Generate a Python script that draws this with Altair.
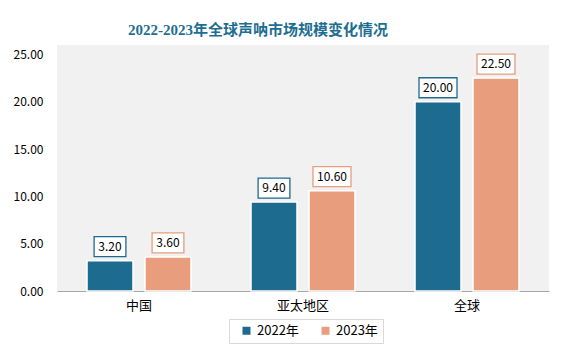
import altair as alt
import pandas as pd

categories = ["中国", "亚太地区", "全球"]
years = ["2022年", "2023年"]
values_2022 = [3.20, 9.40, 20.00]
values_2023 = [3.60, 10.60, 22.50]
y_ticks = [0, 5, 10, 15, 20, 25]

colors = ["#1d6b8f", "#e89d7c"]
FONT = "Noto Sans CJK SC"

rows = []
for c, a, b in zip(categories, values_2022, values_2023):
    rows.append({"cat": c, "year": years[0], "v": a})
    rows.append({"cat": c, "year": years[1], "v": b})
df = pd.DataFrame(rows)
df["label"] = df["v"].map(lambda v: f"{v:.2f}")


def box_path(lbl):
    hw = (len(lbl) * 6.2 + 7) / 40.0
    return f"M{-hw:.3f},-0.5L{hw:.3f},-0.5L{hw:.3f},0.5L{-hw:.3f},0.5Z"


df["box"] = df["label"].map(box_path)

xenc = alt.X(
    "cat:N",
    sort=categories,
    scale=alt.Scale(paddingInner=0.366, paddingOuter=0.183),
    axis=alt.Axis(
        title=None, labelAngle=0, ticks=False, domainColor="#a6a6a6",
        labelFontSize=13, labelFont=FONT, labelColor="#000000", labelPadding=8,
    ),
)
yenc = alt.Y(
    "v:Q",
    scale=alt.Scale(domain=[0, 25]),
    axis=alt.Axis(
        title=None, values=y_ticks, format=".2f", grid=False, domain=False,
        ticks=False, labelFontSize=12, labelFont=FONT, labelColor="#000000",
        labelPadding=14,
    ),
)
xoff = alt.XOffset("year:N", sort=years, scale=alt.Scale(paddingInner=0.207, paddingOuter=0))
color = alt.Color(
    "year:N",
    sort=years,
    scale=alt.Scale(domain=years, range=colors),
    legend=alt.Legend(
        title=None, orient="none", legendX=172, legendY=274, direction="horizontal",
        strokeColor="#d9d9d9", fillColor="#ffffff", padding=5, symbolType="square",
        symbolSize=64, symbolStrokeWidth=0, labelFontSize=13, labelFont=FONT,
        labelColor="#000000", columnPadding=14, symbolOffset=6,
    ),
)

base = alt.Chart(df)

bars = base.mark_bar(stroke="white", strokeWidth=1.5).encode(
    x=xenc, y=yenc, xOffset=xoff, color=color
)

boxes = base.mark_point(
    filled=False, fill="white", fillOpacity=1, size=1600, strokeWidth=1.3, yOffset=-14, opacity=1
).encode(
    x=alt.X("cat:N", sort=categories),
    y="v:Q",
    xOffset=xoff,
    shape=alt.Shape("box:N", scale=None),
    stroke=alt.Stroke("year:N", sort=years, scale=alt.Scale(domain=years, range=colors), legend=None),
)

texts = base.mark_text(fontSize=12, font=FONT, color="#000000", yOffset=-14, baseline="middle").encode(
    x=alt.X("cat:N", sort=categories),
    y="v:Q",
    xOffset=xoff,
    text="label:N",
)

chart = (
    alt.layer(bars, boxes, texts)
    .properties(
        width=492,
        height=246,
        title=alt.TitleParams(
            "2022-2023年全球声呐市场规模变化情况",
            font="Liberation Serif, Noto Sans CJK SC",
            fontSize=15,
            fontWeight="bold",
            color="#1e6e91",
            anchor="middle",
            dx=-45,
            offset=7,
        ),
        padding={"left": 49, "top": 37, "right": 30, "bottom": 60},
        autosize=alt.AutoSizeParams(type="none"),
        background="white",
    )
    .configure_view(stroke=None, fill="#f1f1f1")
)

chart.save("out.html", embed_options={"renderer": "svg", "actions": False})
